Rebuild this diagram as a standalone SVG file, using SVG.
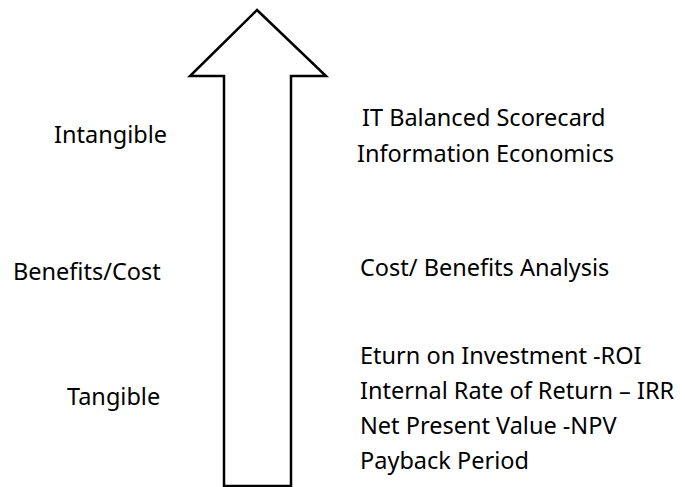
<svg xmlns="http://www.w3.org/2000/svg" width="685" height="487" viewBox="0 0 685 487">
<style>
text{font-family:"Noto Sans","Liberation Sans",sans-serif;font-size:23.5px;fill:#000}
.arrow{fill:#fff;stroke:#000;stroke-width:2.5;stroke-linejoin:miter}
</style>
<rect width="685" height="487" fill="#fff"/>
<g id="arrow">
<path class="arrow" d="M257,10 L326,76 L291,76 L291,486 L224,486 L224,76 L190,76 Z"/>
</g>
<g id="left-labels">
<text x="54" y="143">Intangible</text>
<text x="13" y="280">Benefits/Cost</text>
<text x="67" y="405">Tangible</text>
</g>
<g id="right-labels">
<text x="362" y="126">IT Balanced Scorecard</text>
<text x="357" y="162">Information Economics</text>
<text x="360" y="276">Cost/ Benefits Analysis</text>
<text x="360" y="364">Eturn on Investment -ROI</text>
<text x="360" y="399">Internal Rate of Return – IRR</text>
<text x="360" y="434">Net Present Value -NPV</text>
<text x="360" y="469">Payback Period</text>
</g>
</svg>
